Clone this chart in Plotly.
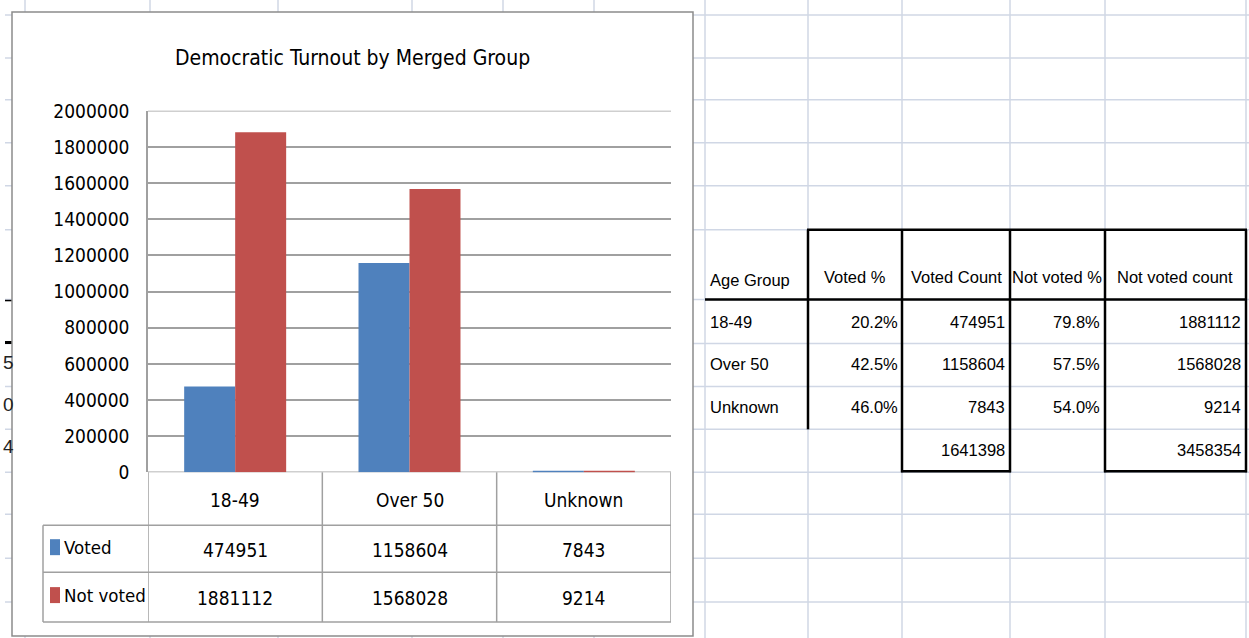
import plotly.graph_objects as go

# ---------------- data ----------------
categories = ["18-49", "Over 50", "Unknown"]
voted = [474951, 1158604, 7843]
not_voted = [1881112, 1568028, 9214]
series_names = ["Voted", "Not voted"]
y_ticks = [0, 200000, 400000, 600000, 800000, 1000000, 1200000, 1400000, 1600000, 1800000, 2000000]
chart_title = "Democratic Turnout by Merged Group"

# side table (spreadsheet)
table_headers = ["Age Group", "Voted %", "Voted Count", "Not voted %", "Not voted count"]
voted_pct = ["20.2%", "42.5%", "46.0%"]
not_voted_pct = ["79.8%", "57.5%", "54.0%"]
total_voted = 1641398
total_not_voted = 3458354

# ---------------- helpers ----------------
W, H = 1249, 638
# the photographed page is placed with a small vertical inset; map picture rows to paper
VA, VB = 0.967, 10.0
def X(px):
    return px / W
def Y(py):
    fy = (py - VB) / VA
    return 1 - fy / H

BLUE = "#4F81BD"
RED = "#C0504D"
GRID = "#D0D7E5"
AXIS = "#A0A0A0"
CHART_FONT = "DejaVu Sans Condensed, DejaVu Sans, sans-serif"
SHEET_FONT = "Liberation Sans, Arial, sans-serif"

def cf(size):
    return dict(family=CHART_FONT, size=size, color="black")

fig = go.Figure()
fig.add_trace(go.Bar(x=categories, y=voted, name=series_names[0], marker=dict(color=BLUE, line=dict(width=0))))
fig.add_trace(go.Bar(x=categories, y=not_voted, name=series_names[1], marker=dict(color=RED, line=dict(width=0))))

shapes = []
annotations = []

# spreadsheet gridlines
row_lines = [14, 57, 99, 142, 185, 229, 299, 343, 386, 429, 472, 514, 558, 602]
col_lines = [25, 150, 278, 412, 503, 594, 705, 808, 902, 1010, 1105, 1246]
for r in row_lines:
    shapes.append(dict(type="line", xref="paper", yref="paper", x0=X(5), x1=1, y0=Y(r), y1=Y(r),
                       line=dict(color=GRID, width=1.5), layer="below"))
for c in col_lines:
    shapes.append(dict(type="line", xref="paper", yref="paper", x0=X(c), x1=X(c), y0=Y(660), y1=Y(-20),
                       line=dict(color=GRID, width=1.5), layer="below"))
# clipped marks at left edge
shapes.append(dict(type="line", xref="paper", yref="paper", x0=X(5), x1=X(12), y0=Y(300), y1=Y(300),
                   line=dict(color="black", width=1.5), layer="below"))
shapes.append(dict(type="line", xref="paper", yref="paper", x0=X(5), x1=X(12), y0=Y(342), y1=Y(342),
                   line=dict(color="black", width=3), layer="below"))
for txt, yy in [("5", 362), ("0", 404), ("4", 446)]:
    annotations.append(dict(text=txt, xref="paper", yref="paper", x=X(1), y=Y(yy), xanchor="left",
                            yanchor="middle", showarrow=False,
                            font=dict(family=SHEET_FONT, size=19, color="#222")))

# chart frame
shapes.append(dict(type="rect", xref="paper", yref="paper", x0=X(12), x1=X(693), y0=Y(636), y1=Y(11),
                   line=dict(color="#8C8C8C", width=1.5), fillcolor="white", layer="below"))

# top and bottom value lines of the plot
for v in (y_ticks[0], y_ticks[-1]):
    shapes.append(dict(type="line", xref="x", yref="y", x0=-0.5, x1=2.5, y0=v, y1=v,
                       line=dict(color=AXIS, width=1.5), layer="below"))

# data table under chart
tbl_line = dict(color=AXIS, width=1.5)
for r in [525, 572, 622]:
    shapes.append(dict(type="line", xref="paper", yref="paper", x0=X(43), x1=X(671), y0=Y(r), y1=Y(r), line=tbl_line))
for b in [-0.5, 0.5, 1.5, 2.5]:
    shapes.append(dict(type="line", xref="x", yref="paper", x0=b, x1=b, y0=Y(472), y1=Y(622), line=tbl_line))
shapes.append(dict(type="line", xref="paper", yref="paper", x0=X(43), x1=X(43), y0=Y(525), y1=Y(622), line=tbl_line))

TF = 19
def cell(text, x, y, xref="x"):
    return dict(text=text, xref=xref, yref="paper", x=x, y=y, xanchor="center", yanchor="middle",
                showarrow=False, font=cf(TF))
for cat in categories:
    annotations.append(cell(cat, cat, Y(500)))
for cat, v in zip(categories, voted):
    annotations.append(cell(str(v), cat, Y(550)))
for cat, v in zip(categories, not_voted):
    annotations.append(cell(str(v), cat, Y(598)))
# legend keys in the table
for name, col, yc in [(series_names[0], BLUE, 547), (series_names[1], RED, 595)]:
    shapes.append(dict(type="rect", xref="paper", yref="paper", x0=X(50), x1=X(60), y0=Y(yc + 8), y1=Y(yc - 8),
                       fillcolor=col, line=dict(width=0)))
    annotations.append(dict(text=name, xref="paper", yref="paper", x=X(62), y=Y(yc), xanchor="left",
                            yanchor="middle", showarrow=False, font=cf(18.5)))

# title
annotations.append(dict(text=chart_title, xref="paper", yref="paper", x=X(352), y=Y(57), showarrow=False,
                        xanchor="center", yanchor="middle", font=cf(21)))

# ---------------- spreadsheet table ----------------
sf = dict(family=SHEET_FONT, size=16.5, color="black")
hdr_centers = [None, 855, 956, 1057, 1175]
for i, h in enumerate(table_headers):
    if i == 0:
        annotations.append(dict(text=h, xref="paper", yref="paper", x=X(708), y=Y(279), xanchor="left",
                                yanchor="middle", showarrow=False, font=sf))
    else:
        annotations.append(dict(text=h, xref="paper", yref="paper", x=X(hdr_centers[i]), y=Y(276), xanchor="center",
                                yanchor="middle", showarrow=False, font=sf))
row_centers = [321, 364, 407]
for i, cat in enumerate(categories):
    yc = row_centers[i]
    annotations.append(dict(text=cat, xref="paper", yref="paper", x=X(708), y=Y(yc), xanchor="left",
                            yanchor="middle", showarrow=False, font=sf))
    for txt, xr in [(voted_pct[i], 900), (str(voted[i]), 1007), (not_voted_pct[i], 1102), (str(not_voted[i]), 1243)]:
        annotations.append(dict(text=txt, xref="paper", yref="paper", x=X(xr), y=Y(yc), xanchor="right",
                                yanchor="middle", showarrow=False, font=sf))
for txt, xr in [(str(total_voted), 1007), (str(total_not_voted), 1243)]:
    annotations.append(dict(text=txt, xref="paper", yref="paper", x=X(xr), y=Y(450), xanchor="right",
                            yanchor="middle", showarrow=False, font=sf))

thick = dict(color="black", width=2.5)
def hline(y, xa, xb):
    shapes.append(dict(type="line", xref="paper", yref="paper", x0=X(xa), x1=X(xb), y0=Y(y), y1=Y(y), line=thick))
def vline(x, ya, yb):
    shapes.append(dict(type="line", xref="paper", yref="paper", x0=X(x), x1=X(x), y0=Y(ya), y1=Y(yb), line=thick))
hline(229, 807, 1247)
hline(299, 705, 1247)
vline(808, 229, 429)
vline(902, 229, 472)
vline(1010, 229, 472)
vline(1105, 229, 472)
vline(1246, 229, 472)
hline(471, 901, 1011)
hline(471, 1104, 1247)

fig.update_layout(
    width=W, height=H,
    margin=dict(l=0, r=0, t=0, b=0),
    paper_bgcolor="white",
    plot_bgcolor="rgba(0,0,0,0)",
    showlegend=False,
    barmode="group",
    bargap=0.415,
    bargroupgap=0,
    xaxis=dict(domain=[X(148), X(671)], type="category", range=[-0.5, 2.5], showticklabels=False,
               showgrid=False, zeroline=False, showline=False, fixedrange=True),
    yaxis=dict(domain=[Y(472), Y(110)], range=[0, 2000000], tickvals=y_ticks, ticktext=[str(t) for t in y_ticks],
               showgrid=True, gridcolor=AXIS, gridwidth=1.5, zeroline=False, showline=True, linecolor=AXIS,
               linewidth=1.5, ticks="", ticklabelstandoff=13,
               tickfont=cf(19), fixedrange=True),
    shapes=shapes,
    annotations=annotations,
)

post = ("document.documentElement.style.cssText='margin:0;padding:0;overflow:hidden;';"
        "document.body.style.cssText='margin:0;padding:0;overflow:hidden;';")
fig.write_html("out.html", post_script=post, config={"displayModeBar": False})
